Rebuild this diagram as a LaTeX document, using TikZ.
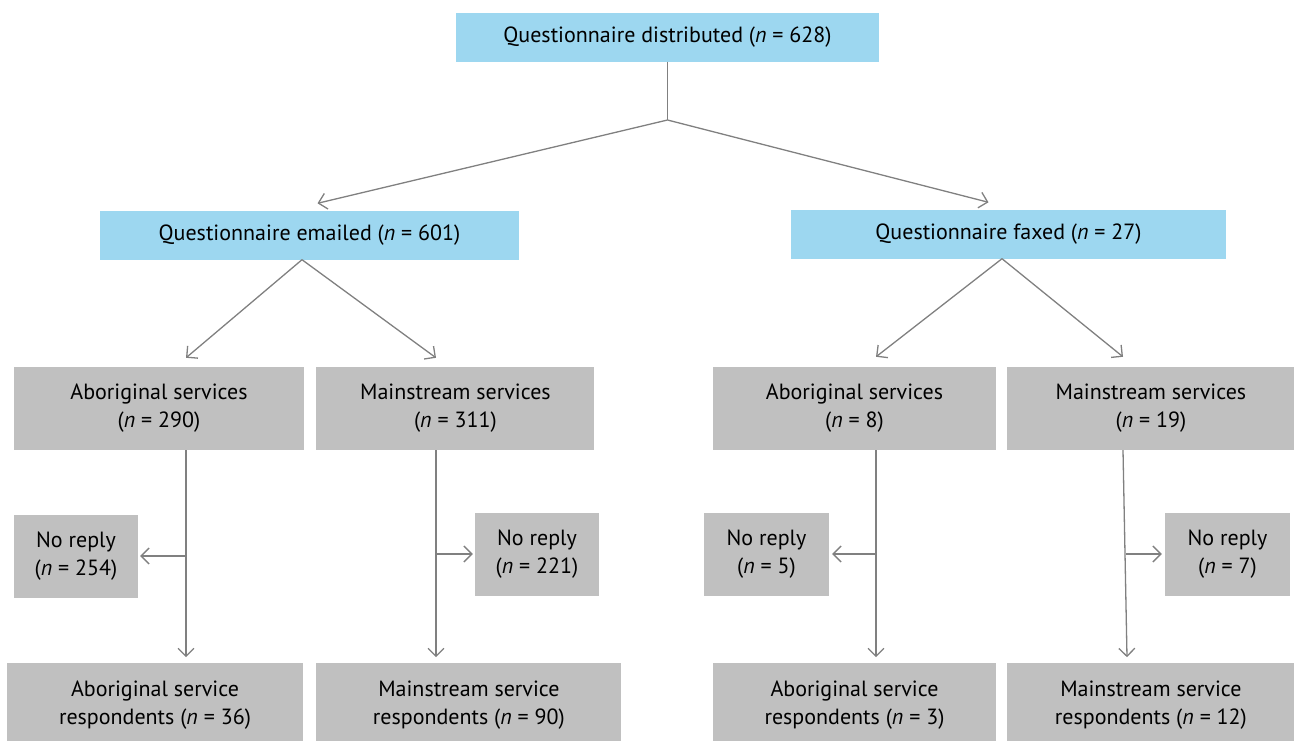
\documentclass[tikz,border=0pt]{standalone}
\usepackage{fontspec}
\setmainfont{PT Sans}
\usepackage{tikz}
\usetikzlibrary{positioning,arrows.meta,calc}
\definecolor{qblue}{HTML}{9DD7F0}
\definecolor{qgrey}{HTML}{C0C0C0}
\definecolor{qline}{HTML}{808080}
\tikzset{
  bluebox/.style={rectangle,fill=qblue,align=center,inner sep=0pt,
    minimum height=49pt},
  greybox/.style={rectangle,fill=qgrey,align=center,inner sep=0pt,
    minimum height=83pt},
  fl/.style={-{Straight Barb[length=8pt,width=16pt]},draw=qline,line width=1.3pt},
  ln/.style={draw=qline,line width=1.3pt},
}
\begin{document}
\begin{tikzpicture}[x=1pt,y=1pt,font=\fontsize{22}{28}\selectfont]
  \useasboundingbox (0,0) rectangle (1298,-740);
  \node[bluebox,minimum width=423pt] (dist) at (667.5,-37) {Questionnaire distributed (\textit{n} = 628)};
  \node[bluebox,minimum width=419pt] (mail) at (309.5,-235) {Questionnaire emailed (\textit{n} = 601)};
  \node[bluebox,minimum width=435pt] (fax) at (1008.5,-234) {Questionnaire faxed (\textit{n} = 27)};
  % services
  \node[greybox,minimum width=290pt] (ab1) at (159,-408.5) {Aboriginal services\\(\textit{n} = 290)};
  \node[greybox,minimum width=278pt,right=12pt of ab1] (ms1) {Mainstream services\\(\textit{n} = 311)};
  \node[greybox,minimum width=283pt] (ab2) at (854.5,-408.5) {Aboriginal services\\(\textit{n} = 8)};
  \node[greybox,minimum width=287pt,right=11pt of ab2] (ms2) {Mainstream services\\(\textit{n} = 19)};
  % no reply
  \node[greybox,minimum width=124pt] (nr1) at (76,-556) {No reply\\(\textit{n} = 254)};
  \node[greybox,minimum width=124pt] (nr2) at (537,-554) {No reply\\(\textit{n} = 221)};
  \node[greybox,minimum width=125pt] (nr3) at (766.5,-554) {No reply\\(\textit{n} = 5)};
  \node[greybox,minimum width=125pt] (nr4) at (1227.5,-554) {No reply\\(\textit{n} = 7)};
  % respondents (run off the bottom edge)
  \node[greybox,minimum width=296pt,below=213pt of ab1,xshift=-4pt] (rb1) {Aboriginal service\\respondents (\textit{n} = 36)};
  \node[greybox,minimum width=305pt,below=213pt of ms1,xshift=13.5pt] (rb2) {Mainstream service\\respondents (\textit{n} = 90)};
  \node[greybox,minimum width=283pt,below=213pt of ab2] (rb3) {Aboriginal service\\respondents (\textit{n} = 3)};
  \node[greybox,minimum width=287pt,below=213pt of ms2] (rb4) {Mainstream service\\respondents (\textit{n} = 12)};

  \coordinate (j) at (667.5,-120);
  \coordinate (t1) at (186,0);
  \coordinate (t2) at (436,0);
  \coordinate (t3) at (876,0);
  \coordinate (t4) at (1123,0);
  \coordinate (t4b) at (1127,0);

  \draw[ln] (dist) -- (j);
  \draw[fl] (j) -- ([xshift=8pt,yshift=7pt]mail.north);
  \draw[fl] (j) -- ([xshift=-20pt,yshift=7pt]fax.north);
  \draw[fl] ([xshift=-7.5pt]mail.south) -- ([yshift=9pt]t1 |- ab1.north);
  \draw[fl] ([xshift=-7.5pt]mail.south) -- ([yshift=9pt]t2 |- ms1.north);
  \draw[fl] ([xshift=-6.5pt]fax.south) -- ([yshift=10pt]t3 |- ab2.north);
  \draw[fl] ([xshift=-6.5pt]fax.south) -- ([yshift=10pt]t4 |- ms2.north);

  \draw[fl] (t1 |- ab1.south) -- ([yshift=6pt]t1 |- rb1.north);
  \draw[fl] (t2 |- ms1.south) -- ([yshift=6pt]t2 |- rb2.north);
  \draw[fl] (t3 |- ab2.south) -- ([yshift=6pt]t3 |- rb3.north);
  \draw[fl] (t4 |- ms2.south) -- ([yshift=6pt]t4b |- rb4.north);

  \draw[fl] (t1 |- nr1.east) -- ([xshift=2pt]nr1.east);
  \draw[fl] (t2 |- nr2.west) -- ([xshift=-2pt]nr2.west);
  \draw[fl] (t3 |- nr3.east) -- ([xshift=3pt]nr3.east);
  \draw[fl] ([xshift=3pt]t4 |- nr4.west) -- ([xshift=-3pt]nr4.west);
\end{tikzpicture}
\end{document}
